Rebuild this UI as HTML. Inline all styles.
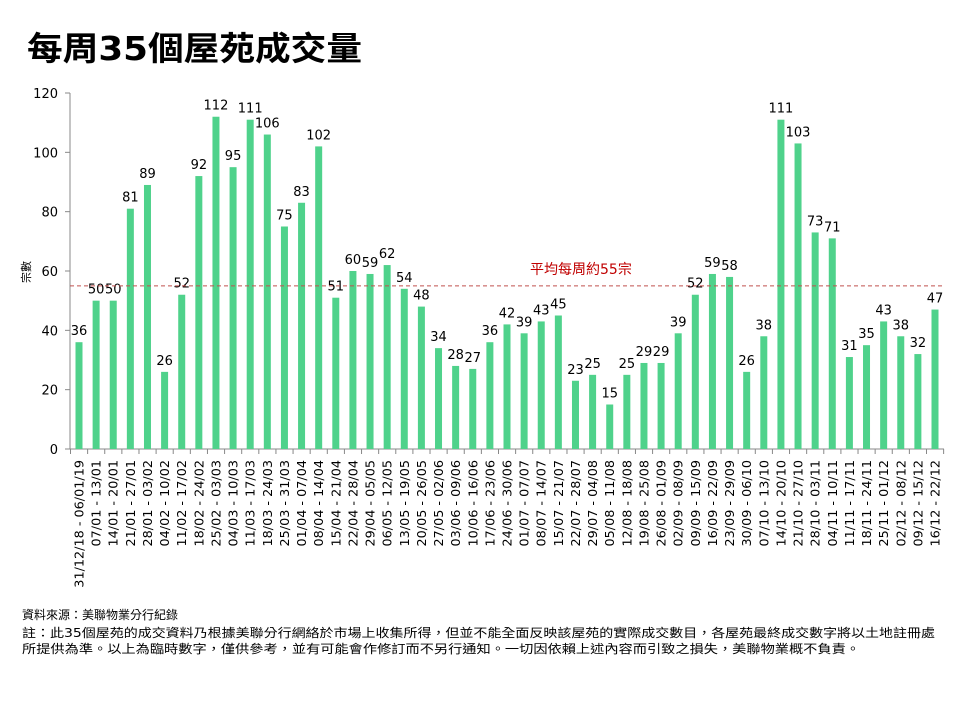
<!DOCTYPE html>
<html><head><meta charset="utf-8"><style>
body{margin:0;background:#fff;width:960px;height:720px;overflow:hidden;font-family:"DejaVu Sans","Noto Sans CJK TC",sans-serif;}
</style></head><body>
<svg id="s" width="960" height="720" xmlns="http://www.w3.org/2000/svg" font-family="DejaVu Sans, Noto Sans CJK TC, sans-serif">
<text x="27" y="60" font-size="33" font-weight="bold" fill="#000" textLength="335" lengthAdjust="spacingAndGlyphs">每周35個屋苑成交量</text>
<text x="22" y="619" font-size="12" fill="#000">資料來源：美聯物業分行紀錄</text>
<text x="22" y="637" font-size="12" fill="#000" textLength="913" lengthAdjust="spacingAndGlyphs">註：此35個屋苑的成交資料乃根據美聯分行網絡於市場上收集所得，但並不能全面反映該屋苑的實際成交數目，各屋苑最終成交數字將以土地註冊處</text>
<text x="22" y="653" font-size="12" fill="#000" textLength="838" lengthAdjust="spacingAndGlyphs">所提供為準。以上為臨時數字，僅供參考，並有可能會作修訂而不另行通知。一切因依賴上述內容而引致之損失，美聯物業概不負責。</text>
<text transform="translate(30,272) rotate(-90)" font-size="11" text-anchor="middle">宗數</text>
</svg>
<script>
var d=[36,50,50,81,89,26,52,92,112,95,111,106,75,83,102,51,60,59,62,54,48,34,28,27,36,42,39,43,45,23,25,15,25,29,29,39,52,59,58,26,38,111,103,73,71,31,35,43,38,32,47];
var L=["31/12/18 - 06/01/19","07/01 - 13/01","14/01 - 20/01","21/01 - 27/01","28/01 - 03/02","04/02 - 10/02","11/02 - 17/02","18/02 - 24/02","25/02 - 03/03","04/03 - 10/03","11/03 - 17/03","18/03 - 24/03","25/03 - 31/03","01/04 - 07/04","08/04 - 14/04","15/04 - 21/04","22/04 - 28/04","29/04 - 05/05","06/05 - 12/05","13/05 - 19/05","20/05 - 26/05","27/05 - 02/06","03/06 - 09/06","10/06 - 16/06","17/06 - 23/06","24/06 - 30/06","01/07 - 07/07","08/07 - 14/07","15/07 - 21/07","22/07 - 28/07","29/07 - 04/08","05/08 - 11/08","12/08 - 18/08","19/08 - 25/08","26/08 - 01/09","02/09 - 08/09","09/09 - 15/09","16/09 - 22/09","23/09 - 29/09","30/09 - 06/10","07/10 - 13/10","14/10 - 20/10","21/10 - 27/10","28/10 - 03/11","04/11 - 10/11","11/11 - 17/11","18/11 - 24/11","25/11 - 01/12","02/12 - 08/12","09/12 - 15/12","16/12 - 22/12"];
var h='',y0=449,k=356/120;
for(var v=0;v<=120;v+=20){var y=y0-v*k;h+='<line x1="65" x2="70" y1="'+y+'" y2="'+y+'" stroke="#888"/><text x="58" y="'+(y+5)+'" font-size="13" text-anchor="end">'+v+'</text>';}
h+='<line x1="70" x2="70" y1="93" y2="449" stroke="#888"/><line x1="70" x2="944" y1="449" y2="449" stroke="#888"/>';
for(var i=0;i<=d.length;i++){var tx=70.5+i*17.12;h+='<line x1="'+tx+'" x2="'+tx+'" y1="449" y2="454" stroke="#888"/>';}
for(var i=0;i<d.length;i++){var x=79+i*17.12,y=y0-d[i]*k;
h+='<rect x="'+(x-3.5)+'" y="'+y+'" width="7" height="'+(d[i]*k)+'" fill="#4fd28b"/>';
h+='<text x="'+x+'" y="'+(y-7)+'" font-size="13" text-anchor="middle">'+d[i]+'</text>';
h+='<text transform="translate('+(x+4.5)+',460) rotate(-90)" font-size="12.8" text-anchor="end">'+L[i]+'</text>';}
var ya=y0-55*k;
h+='<line x1="70" x2="944" y1="'+ya+'" y2="'+ya+'" stroke="#c0504d" stroke-dasharray="4,3"/>';
h+='<text x="530" y="274" font-size="14" fill="#c00000">平均每周約55宗</text>';
document.getElementById('s').insertAdjacentHTML('beforeend',h);
</script>
</body></html>
